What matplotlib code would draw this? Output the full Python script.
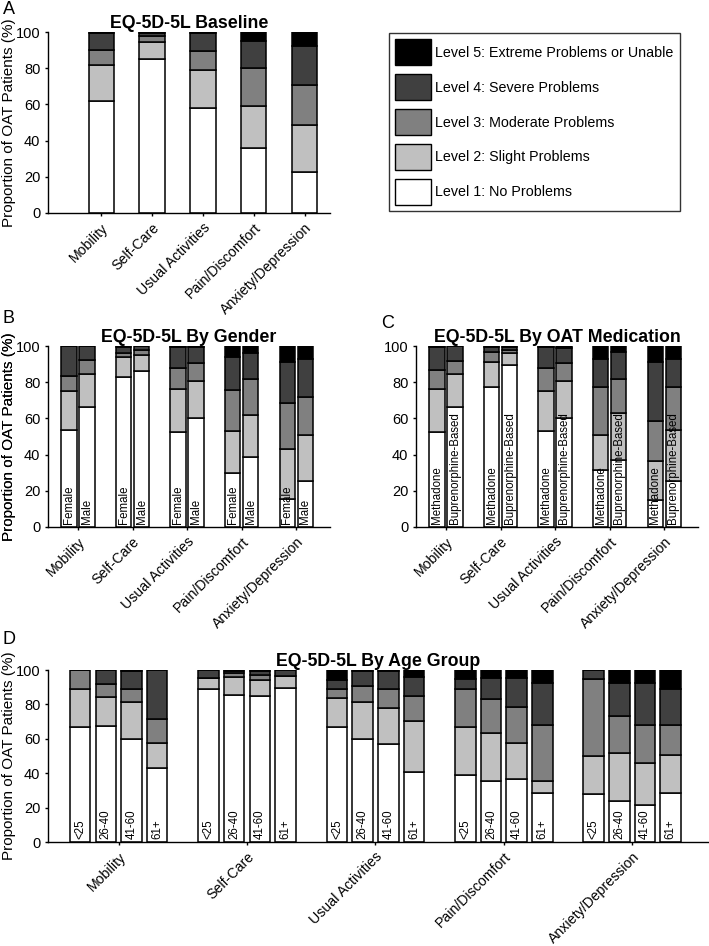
import numpy as np
import matplotlib
matplotlib.use('Agg')
import matplotlib.pyplot as plt
from matplotlib.patches import Patch

plt.rcParams['font.family'] = ['Liberation Sans', 'DejaVu Sans']

dims = ['Mobility', 'Self-Care', 'Usual Activities', 'Pain/Discomfort', 'Anxiety/Depression']
level_names = ['Level 1: No Problems', 'Level 2: Slight Problems', 'Level 3: Moderate Problems',
               'Level 4: Severe Problems', 'Level 5: Extreme Problems or Unable']
level_colors = ['#ffffff', '#c0c0c0', '#808080', '#404040', '#000000']

# % per level (L1..L5), one row per dimension
baseline = [[62.1, 19.5, 8.3, 9.7, 0.4],
            [85.1, 9.2, 3.3, 2.0, 0.4],
            [58.0, 21.0, 10.5, 10.1, 0.4],
            [35.7, 23.4, 21.0, 14.9, 5.0],
            [22.5, 25.9, 22.3, 21.6, 7.7]]

gender_groups = ['Female', 'Male']
female = [[53.5, 21.6, 8.3, 16.6, 0.0],
          [83.0, 11.0, 2.0, 3.5, 0.5],
          [52.6, 23.6, 11.8, 11.4, 0.6],
          [29.7, 23.3, 22.6, 18.4, 6.0],
          [15.3, 27.9, 25.4, 22.7, 8.7]]
male = [[66.1, 18.4, 7.9, 7.6, 0.0],
        [86.0, 8.8, 3.0, 2.2, 0.0],
        [60.1, 20.7, 9.8, 9.0, 0.4],
        [38.7, 23.1, 20.1, 14.0, 4.1],
        [25.5, 25.2, 21.1, 21.2, 7.0]]

med_groups = ['Methadone', 'Buprenorphine-Based']
methadone = [[52.6, 23.6, 10.5, 12.9, 0.4],
             [77.5, 13.8, 5.6, 2.3, 0.8],
             [53.0, 22.1, 12.5, 12.0, 0.4],
             [31.4, 19.7, 26.0, 15.8, 7.1],
             [15.1, 21.1, 22.3, 32.5, 9.0]]
buprenorphine = [[66.4, 18.1, 7.4, 8.1, 0.0],
                 [89.5, 6.4, 2.0, 1.5, 0.6],
                 [60.3, 20.5, 9.6, 8.7, 0.9],
                 [36.9, 26.2, 18.4, 15.3, 3.2],
                 [25.6, 28.1, 23.4, 15.7, 7.2]]

age_groups = ['<25', '26-40', '41-60', '61+']
age_lt25 = [[66.7, 22.1, 11.2, 0.0, 0.0],
            [88.8, 6.3, 0.0, 4.9, 0.0],
            [66.7, 16.9, 5.4, 5.2, 5.8],
            [38.7, 28.0, 22.1, 5.8, 5.4],
            [27.7, 22.4, 44.5, 5.4, 0.0]]
age_26_40 = [[67.5, 17.0, 7.2, 8.3, 0.0],
             [85.5, 10.6, 2.3, 1.2, 0.4],
             [60.0, 21.2, 9.7, 8.7, 0.4],
             [35.6, 28.0, 19.8, 11.8, 4.8],
             [23.8, 27.8, 21.9, 18.8, 7.7]]
age_41_60 = [[59.8, 21.6, 7.6, 10.4, 0.6],
             [84.9, 9.3, 2.9, 2.5, 0.4],
             [57.1, 21.0, 10.7, 10.8, 0.4],
             [36.4, 21.4, 20.7, 16.9, 4.6],
             [21.3, 24.9, 21.7, 24.6, 7.5]]
age_61 = [[42.9, 14.4, 14.1, 28.6, 0.0],
          [89.4, 7.1, 0.0, 3.5, 0.0],
          [40.6, 29.8, 14.7, 11.0, 3.9],
          [28.6, 6.8, 32.5, 24.7, 7.4],
          [28.6, 21.7, 17.6, 21.3, 10.8]]

W, H = 709, 946
fig = plt.figure(figsize=(W / 100, H / 100), dpi=100)


def px_axes(left, top, right, bottom):
    ax = fig.add_axes([left / W, 1 - bottom / H, (right - left) / W, (bottom - top) / H])
    ax._px = (left, right)
    return ax


def stacked(ax, x, vals, width, label=None):
    vals = np.array(vals)
    bottoms = np.concatenate([np.zeros((vals.shape[0], 1)), np.cumsum(vals, axis=1)[:, :-1]], axis=1)
    for k in range(5):
        ax.bar(x, vals[:, k], width, bottom=bottoms[:, k], color=level_colors[k],
               edgecolor='black', linewidth=1.1, zorder=2)
    if label:
        for xi in x:
            ax.text(xi, 1.5, label, rotation=90, ha='center', va='bottom', fontsize=8.3, zorder=3)


def style(ax, title, xlim):
    ax.set_xlim(*xlim)
    ax.set_ylim(0, 100)
    ax.set_yticks(range(0, 101, 20))
    ax.set_xticks(np.arange(1, 6))
    ax.set_xticklabels(dims, rotation=45, ha='right', va='top', rotation_mode='anchor', fontsize=10.2)
    ax.tick_params(axis='y', labelsize=10.5, pad=3)
    ax.tick_params(axis='x', pad=3)
    ax.tick_params(direction='out', length=2.5, width=1)
    for s in ['top', 'right']:
        ax.spines[s].set_visible(False)
    for s in ['left', 'bottom']:
        ax.spines[s].set_linewidth(1.0)
    ax.set_ylabel('Proportion of OAT Patients (%)', fontsize=11)
    left, right = ax._px
    ax.yaxis.set_label_coords((16 - left) / (right - left), 0.5)
    ax.set_title(title, fontsize=12.8, fontweight='bold', pad=2)


x = np.arange(1, 6)

axA = px_axes(48, 32, 330, 213)
stacked(axA, x, baseline, 0.5)
style(axA, 'EQ-5D-5L Baseline', (-0.05, 5.5))

axB = px_axes(48, 346, 330, 527)
stacked(axB, x - 0.165, female, 0.28, 'Female')
stacked(axB, x + 0.165, male, 0.28, 'Male')
style(axB, 'EQ-5D-5L By Gender', (0.45, 5.62))

axC = px_axes(416, 346, 698, 527)
stacked(axC, x - 0.165, methadone, 0.28, 'Methadone')
stacked(axC, x + 0.165, buprenorphine, 0.28, 'Buprenorphine-Based')
style(axC, 'EQ-5D-5L By OAT Medication', (0.45, 5.62))

axD = px_axes(48, 670, 708, 842)
for j, (grp, vals) in enumerate(zip(age_groups, [age_lt25, age_26_40, age_41_60, age_61])):
    stacked(axD, x - 0.3 + 0.2 * j, vals, 0.16, grp)
style(axD, 'EQ-5D-5L By Age Group', (0.45, 5.59))

handles = [Patch(facecolor=level_colors[k], edgecolor='black', linewidth=1.0, label=level_names[k])
           for k in range(4, -1, -1)]
leg = fig.legend(handles=handles, loc='upper left', bbox_to_anchor=(389 / W, 1 - 33 / H),
                 fontsize=10.3, frameon=True, fancybox=False, edgecolor='black',
                 handlelength=2.5, handleheight=2.42, labelspacing=0.62, handletextpad=0.3,
                 borderpad=0.45, borderaxespad=0)
leg.get_frame().set_linewidth(1.0)

for letter, lx, ly in [('A', 3, 10), ('B', 3, 318), ('C', 381, 323), ('D', 3, 640)]:
    fig.text(lx / W, 1 - ly / H, letter, fontsize=13, va='center', ha='left')

fig.savefig('out.png', dpi=100)
